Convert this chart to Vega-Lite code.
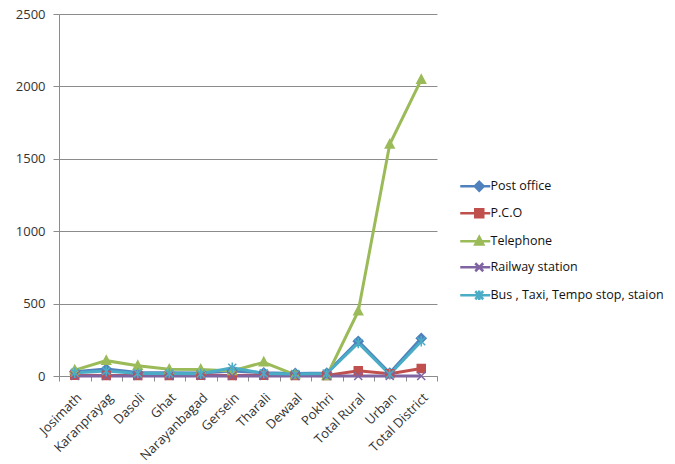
{
  "$schema": "https://vega.github.io/schema/vega-lite/v6.json",
  "width": 378,
  "height": 362,
  "autosize": "none",
  "padding": {"left": 59, "top": 14, "right": 238, "bottom": 88},
  "background": "white",
  "config": {
    "view": {"stroke": null},
    "font": "Open Sans",
    "axis": {
      "labelFont": "Open Sans",
      "labelFontSize": 13,
      "labelColor": "#333333",
      "domainColor": "#8c8c8c",
      "tickColor": "#8c8c8c",
      "gridColor": "#8c8c8c",
      "title": null
    },
    "legend": {
      "title": null,
      "orient": "none",
      "legendX": 414,
      "legendY": 166,
      "padding": 0,
      "symbolSize": 64,
      "symbolOpacity": 1,
      "symbolStrokeWidth": 2.5,
      "labelOffset": 5,
      "labelFont": "Open Sans",
      "labelFontSize": 12.5,
      "labelColor": "#111111",
      "labelLimit": 300,
      "rowPadding": 8
    }
  },
  "data": {
    "values": [
      {"block": "Josimath", "series": "Post office", "count": 30},
      {"block": "Karanprayag", "series": "Post office", "count": 48},
      {"block": "Dasoli", "series": "Post office", "count": 25},
      {"block": "Ghat", "series": "Post office", "count": 22},
      {"block": "Narayanbagad", "series": "Post office", "count": 20},
      {"block": "Gersein", "series": "Post office", "count": 35},
      {"block": "Tharali", "series": "Post office", "count": 22},
      {"block": "Dewaal", "series": "Post office", "count": 18},
      {"block": "Pokhri", "series": "Post office", "count": 20},
      {"block": "Total Rural", "series": "Post office", "count": 240},
      {"block": "Urban", "series": "Post office", "count": 20},
      {"block": "Total District", "series": "Post office", "count": 260},

      {"block": "Josimath", "series": "P.C.O", "count": 5},
      {"block": "Karanprayag", "series": "P.C.O", "count": 4},
      {"block": "Dasoli", "series": "P.C.O", "count": 3},
      {"block": "Ghat", "series": "P.C.O", "count": 4},
      {"block": "Narayanbagad", "series": "P.C.O", "count": 5},
      {"block": "Gersein", "series": "P.C.O", "count": 4},
      {"block": "Tharali", "series": "P.C.O", "count": 5},
      {"block": "Dewaal", "series": "P.C.O", "count": 3},
      {"block": "Pokhri", "series": "P.C.O", "count": 4},
      {"block": "Total Rural", "series": "P.C.O", "count": 37},
      {"block": "Urban", "series": "P.C.O", "count": 15},
      {"block": "Total District", "series": "P.C.O", "count": 52},

      {"block": "Josimath", "series": "Telephone", "count": 41},
      {"block": "Karanprayag", "series": "Telephone", "count": 106},
      {"block": "Dasoli", "series": "Telephone", "count": 71},
      {"block": "Ghat", "series": "Telephone", "count": 46},
      {"block": "Narayanbagad", "series": "Telephone", "count": 45},
      {"block": "Gersein", "series": "Telephone", "count": 35},
      {"block": "Tharali", "series": "Telephone", "count": 95},
      {"block": "Dewaal", "series": "Telephone", "count": 8},
      {"block": "Pokhri", "series": "Telephone", "count": 0},
      {"block": "Total Rural", "series": "Telephone", "count": 447},
      {"block": "Urban", "series": "Telephone", "count": 1600},
      {"block": "Total District", "series": "Telephone", "count": 2047},

      {"block": "Josimath", "series": "Railway station", "count": 0},
      {"block": "Karanprayag", "series": "Railway station", "count": 0},
      {"block": "Dasoli", "series": "Railway station", "count": 0},
      {"block": "Ghat", "series": "Railway station", "count": 0},
      {"block": "Narayanbagad", "series": "Railway station", "count": 0},
      {"block": "Gersein", "series": "Railway station", "count": 0},
      {"block": "Tharali", "series": "Railway station", "count": 0},
      {"block": "Dewaal", "series": "Railway station", "count": 0},
      {"block": "Pokhri", "series": "Railway station", "count": 0},
      {"block": "Total Rural", "series": "Railway station", "count": 0},
      {"block": "Urban", "series": "Railway station", "count": 0},
      {"block": "Total District", "series": "Railway station", "count": 0},

      {"block": "Josimath", "series": "Bus , Taxi, Tempo stop, staion", "count": 22},
      {"block": "Karanprayag", "series": "Bus , Taxi, Tempo stop, staion", "count": 35},
      {"block": "Dasoli", "series": "Bus , Taxi, Tempo stop, staion", "count": 18},
      {"block": "Ghat", "series": "Bus , Taxi, Tempo stop, staion", "count": 18},
      {"block": "Narayanbagad", "series": "Bus , Taxi, Tempo stop, staion", "count": 16},
      {"block": "Gersein", "series": "Bus , Taxi, Tempo stop, staion", "count": 57},
      {"block": "Tharali", "series": "Bus , Taxi, Tempo stop, staion", "count": 18},
      {"block": "Dewaal", "series": "Bus , Taxi, Tempo stop, staion", "count": 14},
      {"block": "Pokhri", "series": "Bus , Taxi, Tempo stop, staion", "count": 17},
      {"block": "Total Rural", "series": "Bus , Taxi, Tempo stop, staion", "count": 228},
      {"block": "Urban", "series": "Bus , Taxi, Tempo stop, staion", "count": 12},
      {"block": "Total District", "series": "Bus , Taxi, Tempo stop, staion", "count": 240}
    ]
  },
  "encoding": {
    "x": {
      "field": "block",
      "type": "nominal",
      "sort": null,
      "scale": {"type": "band", "paddingInner": 0, "paddingOuter": 0},
      "axis": {
        "labelAngle": -45,
        "labelAlign": "right",
        "labelBaseline": "top",
        "labelFontSize": 13,
        "tickBand": "extent",
        "tickSize": 5,
        "labelPadding": 10,
        "grid": false
      }
    },
    "y": {
      "field": "count",
      "type": "quantitative",
      "scale": {"domain": [0, 2500], "nice": false},
      "axis": {
        "values": [0, 500, 1000, 1500, 2000, 2500],
        "format": "d",
        "grid": true,
        "tickSize": 6,
        "labelPadding": 8
      }
    }
  },
  "resolve": {"scale": {"shape": "independent", "color": "independent", "stroke": "independent"}},
  "layer": [
    {
      "mark": {"type": "line", "strokeWidth": 3},
      "encoding": {
        "color": {
          "field": "series",
          "type": "nominal",
          "scale": {
            "domain": ["Post office", "P.C.O", "Telephone", "Railway station", "Bus , Taxi, Tempo stop, staion"],
            "range": ["#4F81BD", "#C0504D", "#9BBB59", "#8064A2", "#4BACC6"]
          },
          "legend": null
        }
      }
    },
    {
      "mark": {"type": "point", "filled": true, "size": 64, "strokeWidth": 1.5, "opacity": 1},
      "encoding": {
        "color": {
          "field": "series",
          "type": "nominal",
          "scale": {
            "domain": ["Post office", "P.C.O", "Telephone", "Railway station", "Bus , Taxi, Tempo stop, staion"],
            "range": ["#4F81BD", "#C0504D", "#9BBB59", "#8064A2", "#4BACC6"]
          },
          "legend": null
        },
        "stroke": {
          "field": "series",
          "type": "nominal",
          "scale": {
            "domain": ["Post office", "P.C.O", "Telephone", "Railway station", "Bus , Taxi, Tempo stop, staion"],
            "range": ["#4F81BD", "#C0504D", "#9BBB59", "#8064A2", "#4BACC6"]
          },
          "legend": null
        },
        "shape": {
          "field": "series",
          "type": "nominal",
          "scale": {
            "domain": ["Post office", "P.C.O", "Telephone", "Railway station", "Bus , Taxi, Tempo stop, staion"],
            "range": [
              "M0,-1.2L1.2,0L0,1.2L-1.2,0Z",
              "M-1,-1H1V1H-1Z",
              "M0,-1.2L1.1,0.9H-1.1Z",
              "M-1,-1L1,1M-1,1L1,-1",
              "M-1,-1L1,1M-1,1L1,-1M0,-1.3V1.3"
            ]
          },
          "legend": null
        }
      }
    },
    {
      "mark": {"type": "point", "filled": true, "opacity": 0},
      "encoding": {
        "color": {
          "field": "series",
          "type": "nominal",
          "scale": {
            "domain": ["Post office", "P.C.O", "Telephone", "Railway station", "Bus , Taxi, Tempo stop, staion"],
            "range": ["#4F81BD", "#C0504D", "#9BBB59", "#8064A2", "#4BACC6"]
          },
          "legend": {"title": null}
        },
        "stroke": {
          "field": "series",
          "type": "nominal",
          "scale": {
            "domain": ["Post office", "P.C.O", "Telephone", "Railway station", "Bus , Taxi, Tempo stop, staion"],
            "range": ["#4F81BD", "#C0504D", "#9BBB59", "#8064A2", "#4BACC6"]
          },
          "legend": {"title": null}
        },
        "shape": {
          "field": "series",
          "type": "nominal",
          "scale": {
            "domain": ["Post office", "P.C.O", "Telephone", "Railway station", "Bus , Taxi, Tempo stop, staion"],
            "range": [
              "M-4.75,0H2.75M0,-1.1L1.1,0L0,1.1L-1.1,0Z",
              "M-4.75,0H2.75M-1,-1H1V1H-1Z",
              "M-4.75,0H2.75M0,-1.1L1,0.8H-1Z",
              "M-4.75,0H2.75M-1,-1L1,1M-1,1L1,-1",
              "M-4.75,0H2.75M-1,-1L1,1M-1,1L1,-1M0,-1.2V1.2"
            ]
          },
          "legend": {"title": null}
        }
      }
    }
  ]
}
